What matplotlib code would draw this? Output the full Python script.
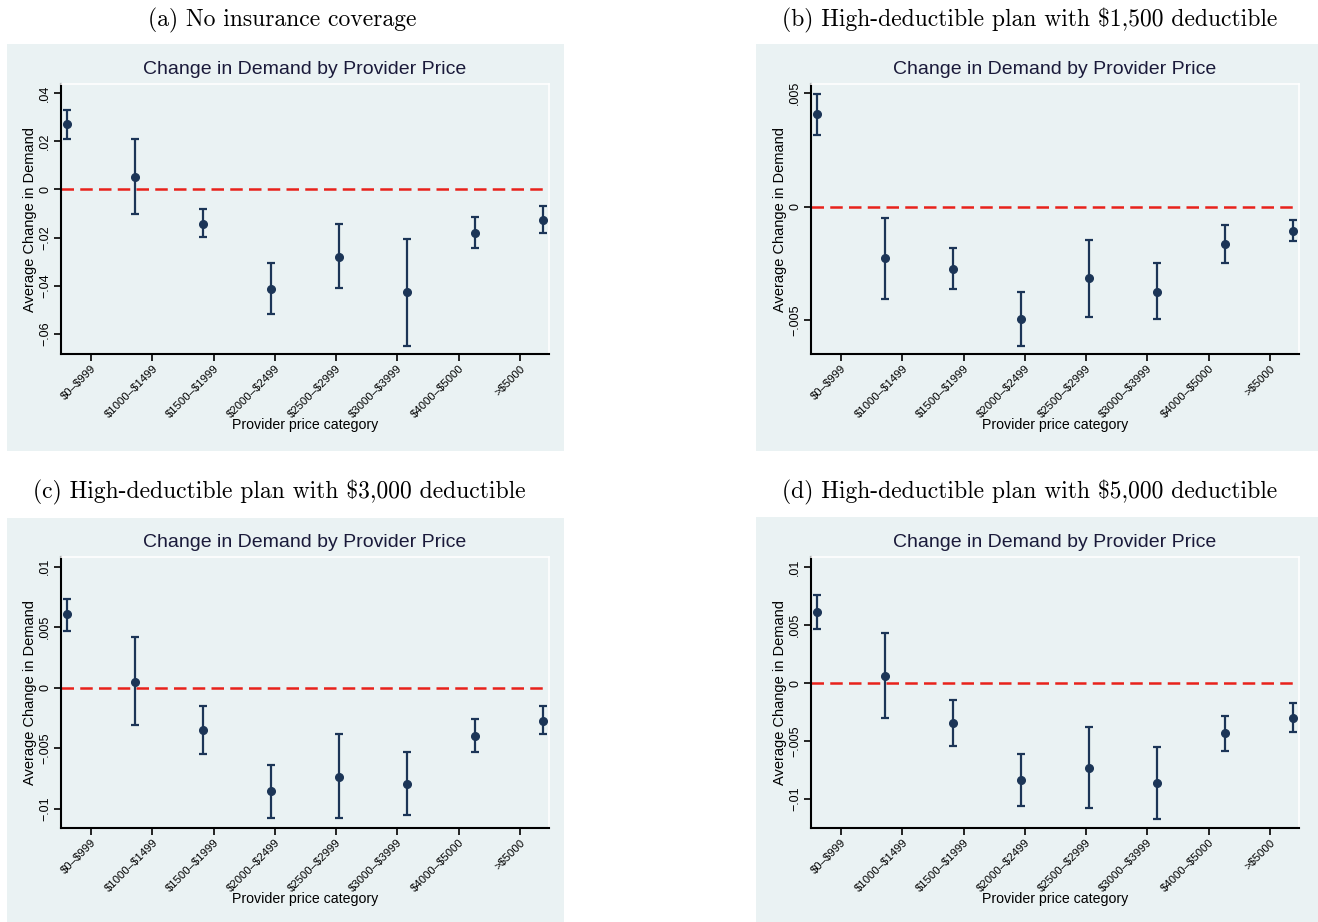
"""
    Change in demand by provider price, four insurance scenarios
"""

import numpy as np
import matplotlib.pyplot as plt
from matplotlib.patches import Rectangle

plt.rcParams['text.parse_math'] = False
plt.rcParams['font.family'] = ['Liberation Sans', 'DejaVu Sans']

# price categories
categories = ['$0–$999', '$1000–$1499', '$1500–$1999', '$2000–$2499',
              '$2500–$2999', '$3000–$3999', '$4000–$5000', '>$5000']

# (a) no insurance
est_a = [0.0270, 0.0050, -0.0144, -0.0414, -0.0280, -0.0425, -0.0180, -0.0127]
lo_a = [0.0208, -0.0104, -0.0199, -0.0519, -0.0411, -0.0648, -0.0245, -0.0183]
hi_a = [0.0329, 0.0208, -0.0083, -0.0304, -0.0144, -0.0206, -0.0113, -0.0068]

# (b) $1,500 deductible
est_b = [0.00407, -0.00229, -0.00275, -0.00494, -0.00316, -0.00375, -0.00166, -0.00107]
lo_b = [0.00316, -0.00406, -0.00365, -0.00616, -0.00487, -0.00494, -0.00251, -0.00154]
hi_b = [0.00496, -0.00049, -0.00181, -0.00375, -0.00147, -0.00251, -0.00081, -0.00059]

# (c) $3,000 deductible
est_c = [0.00607, 0.00049, -0.00352, -0.00854, -0.00739, -0.00800, -0.00396, -0.00272]
lo_c = [0.00467, -0.00305, -0.00550, -0.01080, -0.01080, -0.01052, -0.00530, -0.00385]
hi_c = [0.00736, 0.00420, -0.00151, -0.00640, -0.00379, -0.00533, -0.00261, -0.00151]

# (d) $5,000 deductible
est_d = [0.00618, 0.00066, -0.00342, -0.00839, -0.00730, -0.00859, -0.00431, -0.00302]
lo_d = [0.00471, -0.00302, -0.00540, -0.01063, -0.01078, -0.01172, -0.00586, -0.00425]
hi_d = [0.00764, 0.00431, -0.00141, -0.00615, -0.00379, -0.00552, -0.00282, -0.00172]

panel_titles = ['(a) No insurance coverage',
                '(b) High-deductible plan with $1,500 deductible',
                '(c) High-deductible plan with $3,000 deductible',
                '(d) High-deductible plan with $5,000 deductible']
yticks_a = [-0.06, -0.04, -0.02, 0, 0.02, 0.04]
yticks_b = [-0.005, 0, 0.005]
yticks_cd = [-0.01, -0.005, 0, 0.005, 0.01]

W, H = 1318, 922
BG = '#EAF2F3'
NAVY = '#1c3557'

fig = plt.figure(figsize=(W / 100, H / 100), dpi=100, facecolor='white')


def fbox(x0, y0, x1, y1):
    # pixel box (top-left origin) -> figure fraction [l, b, w, h]
    return [x0 / W, 1 - y1 / H, (x1 - x0) / W, (y1 - y0) / H]


def fmt(v):
    # stata style: .04, -.02, 0
    if v == 0:
        return '0'
    s = ('%g' % abs(v)).lstrip('0')
    return ('−' + s) if v < 0 else s


panels = [
    (est_a, lo_a, hi_a, yticks_a, (-0.0683, 0.0437), (7, 44, 564, 451), (61, 84, 549, 354)),
    (est_b, lo_b, hi_b, yticks_b, (-0.0065, 0.0054), (756, 44, 1318, 451), (811, 84, 1299, 354)),
    (est_c, lo_c, hi_c, yticks_cd, (-0.0116, 0.0108), (7, 518, 564, 922), (61, 557, 549, 828)),
    (est_d, lo_d, hi_d, yticks_cd, (-0.0125, 0.0109), (756, 517, 1318, 922), (811, 557, 1299, 828)),
]
title_x = [282, 1030, 279, 1030]

x = np.arange(len(categories))
# stata put the category ticks on a slightly different spacing than the points
tick_pos = np.linspace(0.36, 6.66, len(categories))

for k, (est, lo, hi, yt, ylim, bg, box) in enumerate(panels):
    # panel background
    bx = fbox(*bg)
    fig.add_artist(Rectangle((bx[0], bx[1]), bx[2], bx[3], transform=fig.transFigure,
                             facecolor=BG, edgecolor='none', zorder=0))
    # panel caption
    fig.text(title_x[k] / W, 1 - (20 if k < 2 else 492) / H, panel_titles[k],
             family=['cmr10', 'DejaVu Serif'], fontsize=17,
             ha='center', va='center')

    ax = fig.add_axes(fbox(*box))
    ax.set_facecolor(BG)
    est = np.array(est)
    err = [est - np.array(lo), np.array(hi) - est]
    ax.axhline(0, color='#e8221b', linestyle=(0, (5, 2.5)), linewidth=1.8, zorder=1)
    ax.errorbar(x, est, yerr=err, fmt='o', color=NAVY, markersize=5.5,
                elinewidth=1.6, capsize=3.2, capthick=1.6, zorder=3)
    ax.set_xlim(-0.085, 7.09)
    ax.set_ylim(*ylim)

    ax.set_yticks(yt)
    ax.set_yticklabels([fmt(v) for v in yt], rotation=90, va='center', fontsize=9)
    ax.set_xticks(tick_pos)
    ax.set_xticklabels(categories, rotation=45, ha='right', va='top',
                       rotation_mode='anchor', fontsize=8.2)
    ax.tick_params(axis='both', length=5, width=1.2, color='black', pad=2)

    for s in ['left', 'bottom']:
        ax.spines[s].set_color('black')
        ax.spines[s].set_linewidth(1.5)
    for s in ['top', 'right']:
        ax.spines[s].set_color('white')
        ax.spines[s].set_linewidth(1.2)

    ax.text(0.5, (box[3] - (69 if k < 2 else 542)) / (box[3] - box[1]),
            'Change in Demand by Provider Price', transform=ax.transAxes,
            ha='center', va='center', fontsize=14, color='#1a1a3a')
    ax.set_ylabel('Average Change in Demand', fontsize=10.5, va='center')
    ax.yaxis.set_label_coords((30 - 61) / 488, 0.5)
    ax.set_xlabel('Provider price category', fontsize=10.2, va='center')
    ax.xaxis.set_label_coords(0.5, -(425 - 354) / 270)

plt.savefig('out.png', dpi=100, facecolor='white')
